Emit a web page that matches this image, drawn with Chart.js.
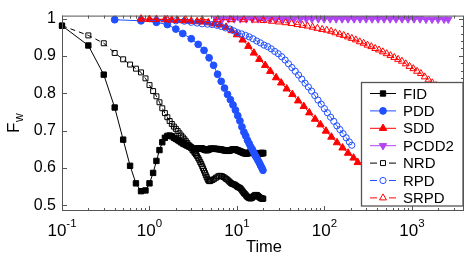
<!DOCTYPE html>
<html><head><meta charset="utf-8">
<script src="https://cdn.jsdelivr.net/npm/chart.js@4/dist/chart.umd.min.js"></script>
<style>html,body{margin:0;padding:0;background:#fff}</style>
</head><body>
<canvas id="c" width="471" height="258"></canvas>
<script>
// ---------- data ----------
const seriesNames = ['FID','PDD','SDD','PCDD2','NRD','RPD','SRPD'];
const xDecades = [-1,0,1,2,3];
const yTicks = [0.5,0.6,0.7,0.8,0.9,1];

// FID and NRD share the same time samples
const tFidNrd = [0.1,0.2,0.3,0.4,0.5,0.6,0.7,0.8,0.9,1.0,1.1,1.2,1.3,1.4,1.5,1.6,1.7,1.8,1.9,2.0,
  2.1,2.2,2.3,2.4,2.5,2.6,2.7,2.8,2.9,3.0,3.1,3.2,3.3,3.4,3.5,3.6,3.7,3.8,3.9,4.0,
  4.1,4.2,4.3,4.4,4.5,4.6,4.7,4.8,4.9,5.0,
  5.25,5.5,5.75,6,6.25,6.5,6.75,7,7.25,7.5,7.75,8,8.25,8.5,8.75,9,9.25,9.5,9.75,10,
  10.25,10.5,10.75,11,11.25,11.5,11.75,12,12.25,12.5,12.75,13,13.25,13.5,13.75,14,14.25,14.5,14.75,15,
  15.25,15.5,15.75,16,16.25,16.5,16.75,17,17.25,17.5,17.75,18,18.25,18.5,18.75,19,19.25,19.5,19.75,20];
const fFID = [0.981,0.928,0.850,0.762,0.676,0.606,0.559,0.538,0.540,0.559,
  0.587,0.619,0.648,0.669,0.681,0.686,0.687,0.685,0.681,0.678,
  0.675,0.672,0.669,0.666,0.664,0.662,0.660,0.658,0.657,0.655,
  0.653,0.652,0.651,0.651,0.651,0.652,0.653,0.653,0.653,0.652,
  0.651,0.650,0.649,0.648,0.648,0.648,0.649,0.650,0.651,0.652,
  0.652,0.652,0.651,0.651,0.650,0.650,0.649,0.648,0.647,0.647,0.646,0.646,0.647,0.648,0.649,0.650,0.650,0.650,0.649,0.648,
  0.647,0.646,0.645,0.644,0.643,0.642,0.641,0.640,0.640,0.639,0.639,0.639,0.640,0.640,0.641,0.641,0.642,0.642,0.642,0.641,
  0.641,0.640,0.640,0.639,0.638,0.638,0.637,0.637,0.637,0.637,0.638,0.638,0.639,0.639,0.640,0.640,0.640,0.640,0.640,0.640];
const fNRD = [0.981,0.955,0.934,0.908,0.891,0.877,0.866,0.856,0.840,0.822,
  0.806,0.792,0.776,0.760,0.747,0.736,0.726,0.718,0.711,0.705,
  0.699,0.693,0.687,0.682,0.677,0.672,0.667,0.662,0.658,0.653,
  0.648,0.644,0.640,0.636,0.632,0.627,0.622,0.616,0.611,0.605,
  0.599,0.593,0.587,0.581,0.576,0.571,0.567,0.565,0.565,0.566,
  0.568,0.571,0.574,0.577,0.579,0.579,0.578,0.576,0.574,0.571,0.569,0.566,0.563,0.560,0.558,0.557,0.556,0.555,0.553,0.551,
  0.549,0.548,0.547,0.545,0.542,0.539,0.536,0.533,0.531,0.529,0.526,0.524,0.522,0.521,0.520,0.519,0.519,0.519,0.520,0.521,
  0.523,0.525,0.526,0.527,0.528,0.528,0.528,0.527,0.526,0.525,0.523,0.522,0.521,0.520,0.519,0.519,0.518,0.518,0.518,0.518];

const tPDD = [0.4,0.8,1.2,1.6,2.0,2.4,3.0,3.6,4.2,4.8,5.4,6.0,6.6,7.2,7.8,8.4,9.0,9.6,10.2,10.8,
  11.4,12.0,12.6,13.2,13.8,14.4,15.0,15.6,16.2,16.8,17.4,18.0,18.6,19.2,19.8];
const fPDD = [0.997,0.994,0.990,0.984,0.972,0.960,0.946,0.931,0.915,0.895,0.875,0.851,0.832,0.814,0.797,0.783,0.769,0.755,0.740,0.726,
  0.710,0.696,0.686,0.674,0.665,0.656,0.649,0.641,0.633,0.627,0.620,0.614,0.607,0.601,0.594];

const tSDD = [0.8,1.0,1.2,1.5,1.8,2.1,2.5,3,3.5,4,4.7,5.5,6.4,7.5,8.7,10,11.6,13.5,15.6,18,
  21,24,28,32,37,43,50,58,67,78,90,104,120,139,161,186,215,240];
const fSDD = [0.999,0.998,0.998,0.997,0.996,0.995,0.994,0.993,0.992,0.991,0.989,0.986,0.983,0.977,0.968,0.957,0.943,0.926,0.908,0.891,
  0.875,0.859,0.842,0.828,0.812,0.797,0.780,0.765,0.748,0.731,0.716,0.699,0.683,0.668,0.654,0.640,0.627,0.615];

const tPCDD2 = [5.8,6.8,8,9.3,10.9,12.8,15,17.5,20.5,24,
  28,33,38.5,45,53,62,72,85,99,116,136,159,186,218,255,299,350,410,480,562,
  658,770,902,1056,1237,1448,1696,1986,2325,2600];
const fPCDD2 = [0.999,0.999,0.999,0.999,0.999,0.999,0.999,0.999,0.999,0.999,
  0.999,0.999,0.999,0.999,0.999,0.999,0.999,0.999,0.999,0.999,0.999,0.999,0.999,0.999,0.999,0.999,0.999,0.999,0.999,0.999,
  0.999,0.999,0.999,0.999,0.999,0.998,0.998,0.998,0.998,0.998];

const tRPD = [0.8,1.2,1.6,2.0,2.5,3.0,3.5,4.0,4.6,5.2,5.9,6.6,7.4,8.3,9.2,10.2,11.3,12.5,13.8,15.2,
  16.8,18.5,20.4,22.4,24.6,27,29.6,32.4,35.5,38.8,42.4,46.3,50.5,55,60,65.4,71.2,77.5,84.3,91.7,
  99.7,108,117.5,127.6,138.5,150,163,177,192,205];
const fRPD = [0.997,0.995,0.994,0.994,0.993,0.990,0.988,0.986,0.985,0.984,0.982,0.979,0.975,0.972,0.967,0.962,0.959,0.955,0.951,0.946,
  0.940,0.935,0.929,0.925,0.919,0.912,0.906,0.898,0.889,0.879,0.869,0.859,0.849,0.838,0.827,0.817,0.806,0.794,0.782,0.771,
  0.759,0.748,0.736,0.725,0.713,0.703,0.692,0.681,0.670,0.661];

const tSRPD = [0.8,1.6,2.6,4,6,8.5,12,16,20,25,30,36,42,49,56,64,73,83,94,106,
  119,133,149,166,185,205,228,253,280,310,343,380,420,465,514,568,628,694,767,848,
  937,1035,1144,1264,1397,1544,1706,1885];
const fSRPD = [0.999,0.998,0.997,0.997,0.997,0.997,0.997,0.996,0.995,0.993,0.991,0.989,0.987,0.984,0.982,0.980,0.977,0.974,0.971,0.969,
  0.966,0.962,0.958,0.955,0.951,0.947,0.943,0.938,0.934,0.929,0.925,0.920,0.916,0.911,0.906,0.901,0.896,0.891,0.886,0.879,
  0.872,0.866,0.859,0.853,0.844,0.836,0.828,0.821];

// ---------- styling ----------
const FONT = '"Liberation Sans", Arial, Helvetica, sans-serif';
const BLUE = '#2050ff', RED = '#ff0000', PURPLE = '#b044f2', BLACK = '#000000';

function pts(t, f) { return t.map((v, i) => ({ x: v, y: f[i] })); }

const seriesData = [pts(tFidNrd,fFID), pts(tPDD,fPDD), pts(tSDD,fSDD), pts(tPCDD2,fPCDD2),
                    pts(tFidNrd,fNRD), pts(tRPD,fRPD), pts(tSRPD,fSRPD)];
const seriesStyle = [
  {color:BLACK, shape:'rect', r:3.8, filled:true, dash:[], rot:0},
  {color:BLUE, shape:'circle', r:3.4, filled:true, dash:[], rot:0},
  {color:RED, shape:'triangle', r:4.3, filled:true, dash:[], rot:0},
  {color:PURPLE, shape:'triangle', r:4.2, filled:true, dash:[], rot:180},
  {color:BLACK, shape:'rect', r:3.5, filled:false, dash:[5,4], rot:0},
  {color:BLUE, shape:'circle', r:3.1, filled:false, dash:[5,4], rot:0},
  {color:RED, shape:'triangle', r:4.0, filled:false, dash:[5,4], rot:0}
];

const datasets = seriesNames.map((name, i) => {
  const s = seriesStyle[i];
  return {
    label: name, data: seriesData[i],
    borderColor: s.color, borderWidth: 1, borderDash: s.dash,
    pointStyle: s.shape, pointRotation: s.rot, pointRadius: s.r,
    pointBackgroundColor: s.filled ? s.color : 'rgba(0,0,0,0)',
    pointBorderColor: s.color, pointBorderWidth: 1,
    tension: 0, fill: false, clip: false, order: -i
  };
});

const decorPlugin = {
  id: 'decor',
  afterDraw(chart) {
    const { ctx, chartArea: a, scales: { x, y } } = chart;
    ctx.save();
    // frame
    ctx.strokeStyle = '#555'; ctx.lineWidth = 1; ctx.setLineDash([]);
    ctx.strokeRect(a.left + 0.5, a.top + 0.5, a.right - a.left - 1, a.bottom - a.top - 1);
    ctx.beginPath();
    for (const d of xDecades) {
      for (let m = 1; m <= 9; m++) {
        const v = m * Math.pow(10, d);
        if (v < x.min || v > x.max) continue;
        const px = Math.round(x.getPixelForValue(v)) + 0.5;
        const L = m === 1 ? 5 : 3;
        ctx.moveTo(px, a.bottom); ctx.lineTo(px, a.bottom - L);
        ctx.moveTo(px, a.top); ctx.lineTo(px, a.top + L);
      }
    }
    for (const v of yTicks) {
      const py = Math.round(y.getPixelForValue(v)) + 0.5;
      ctx.moveTo(a.left, py); ctx.lineTo(a.left + 5, py);
    }
    for (let k = 25; k <= 50; k++) {
      const py = Math.round(y.getPixelForValue(k / 50)) + 0.5;
      const L = k % 5 === 0 ? 5 : 3;
      ctx.moveTo(a.right, py); ctx.lineTo(a.right - L, py);
    }
    ctx.stroke();

    // x tick labels 10^n
    ctx.fillStyle = '#000'; ctx.textBaseline = 'alphabetic'; ctx.textAlign = 'left';
    for (const d of xDecades) {
      const px = x.getPixelForValue(Math.pow(10, d));
      const base = '10', ex = String(d);
      ctx.font = '17px ' + FONT; const w1 = ctx.measureText(base).width;
      ctx.font = '11.5px ' + FONT; const w2 = ctx.measureText(ex).width;
      const sx = px - (w1 + w2) / 2;
      ctx.font = '17px ' + FONT; ctx.fillText(base, sx, 236);
      ctx.font = '11.5px ' + FONT; ctx.fillText(ex, sx + w1, 227);
    }
    ctx.font = '16.5px ' + FONT; ctx.textAlign = 'center';
    ctx.fillText('Time', (a.left + a.right) / 2 + 1, 252);
    ctx.save();
    ctx.translate(19, 133); ctx.rotate(-Math.PI / 2);
    ctx.textAlign = 'left';
    ctx.font = '17px ' + FONT; ctx.fillText('F', 0, 0);
    const wf = ctx.measureText('F').width;
    ctx.font = '12px ' + FONT; ctx.fillText('w', wf + 0.5, 4);
    ctx.restore();

    // legend
    const bx = 361.5, by = 82.5, bw = 101.5, bh = 123.5;
    ctx.fillStyle = '#fff'; ctx.fillRect(bx, by, bw, bh);
    ctx.strokeStyle = '#555'; ctx.lineWidth = 1.3; ctx.strokeRect(bx, by, bw, bh);
    chart.data.datasets.forEach((ds, i) => {
      const s = seriesStyle[i];
      const ry = 93.5 + i * 17.4;
      ctx.save();
      ctx.strokeStyle = s.color; ctx.lineWidth = 1;
      ctx.setLineDash(s.dash.length ? [7, 12] : []);
      ctx.beginPath(); ctx.moveTo(370, ry); ctx.lineTo(396, ry); ctx.stroke();
      ctx.setLineDash([]);
      ctx.fillStyle = s.filled ? s.color : 'rgba(0,0,0,0)';
      ctx.strokeStyle = s.color; ctx.lineWidth = 1;
      Chart.helpers.drawPoint(ctx, { pointStyle: s.shape, rotation: s.rot, radius: s.r, borderWidth: 1 }, 383, ry);
      ctx.restore();
      ctx.fillStyle = '#000'; ctx.font = '15px ' + FONT;
      ctx.textAlign = 'left'; ctx.textBaseline = 'middle';
      ctx.fillText(ds.label, 403, ry + 1);
    });
    ctx.restore();
  }
};

new Chart(document.getElementById('c').getContext('2d'), {
  type: 'line',
  data: { datasets },
  options: {
    responsive: false, animation: false, devicePixelRatio: 1,
    layout: { padding: { left: 0, right: 7, top: 9, bottom: 0 } },
    plugins: { legend: { display: false }, tooltip: { enabled: false } },
    scales: {
      x: {
        type: 'logarithmic', min: 0.1, max: 3930,
        grid: { display: false }, border: { display: false },
        ticks: { display: false },
        afterFit(s) { s.height = 47; }
      },
      y: {
        type: 'linear', min: 0.485, max: 1.008,
        grid: { display: false, drawTicks: false }, border: { display: false },
        afterBuildTicks(s) { s.ticks = yTicks.map(v => ({ value: v })); },
        ticks: { color: '#000', font: { family: FONT, size: 16 }, padding: 6,
                 callback: v => String(v) },
        afterFit(s) { s.width = 62; }
      }
    }
  },
  plugins: [decorPlugin]
});
</script>
</body></html>
